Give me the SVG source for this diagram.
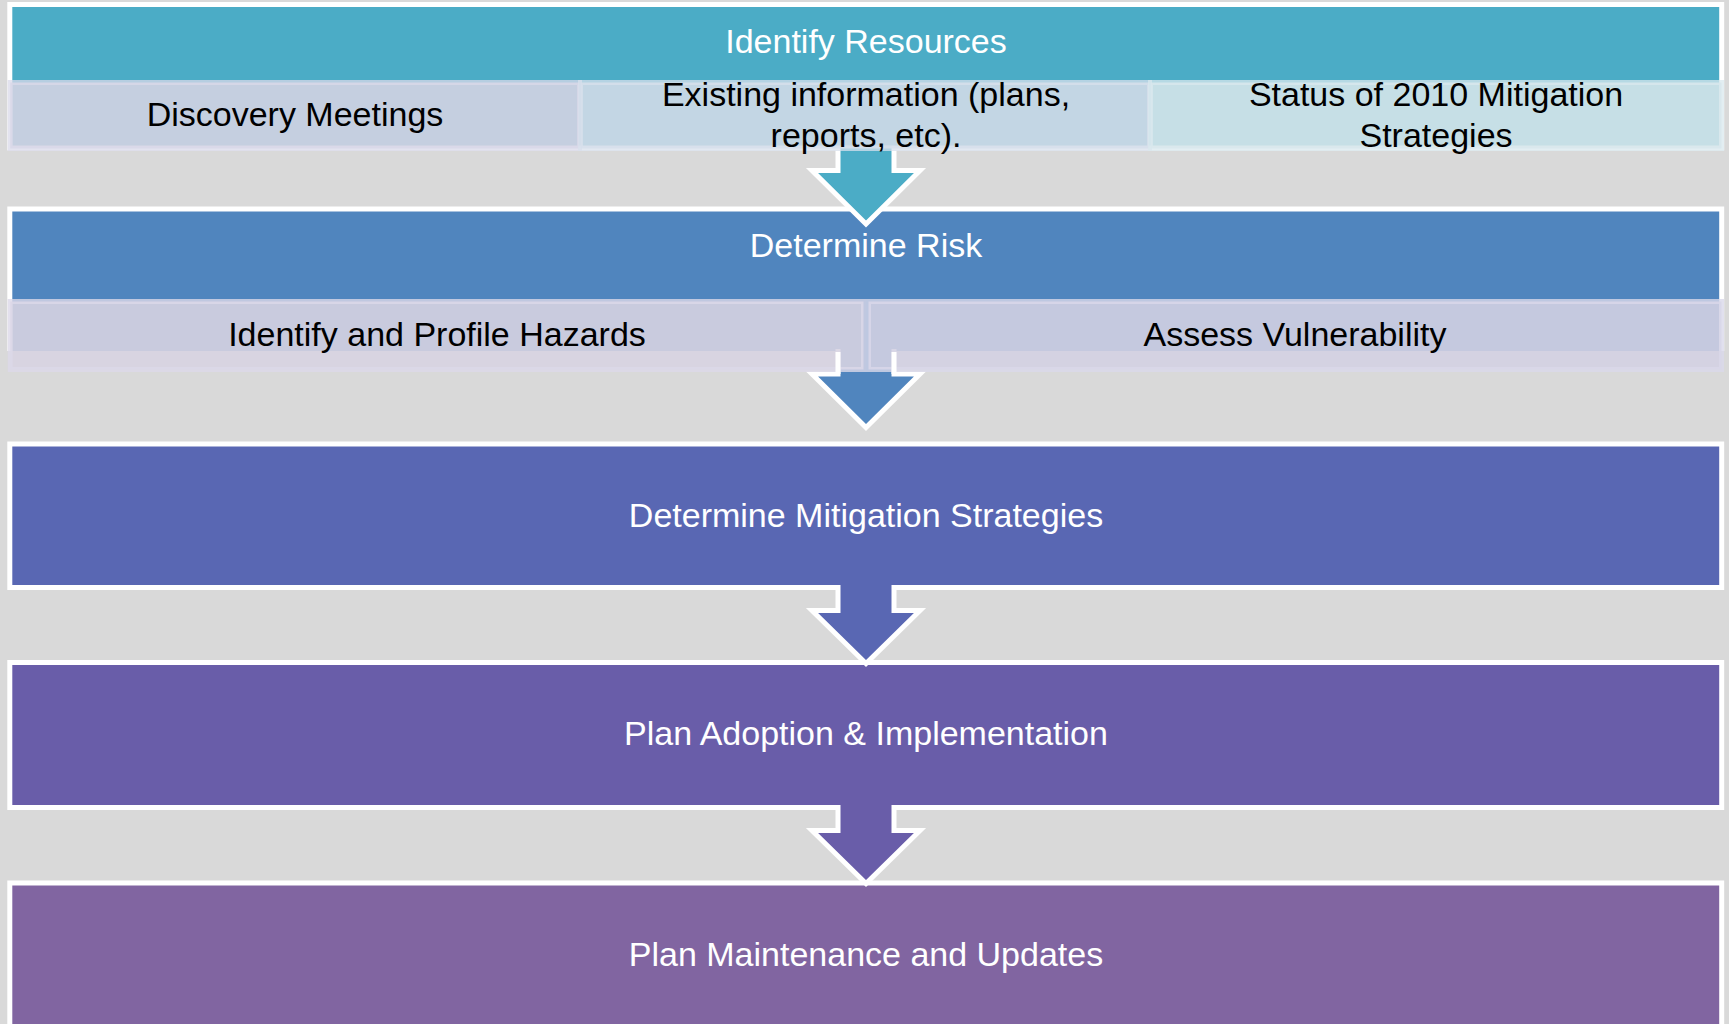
<svg xmlns="http://www.w3.org/2000/svg" width="1729" height="1024" viewBox="0 0 1729 1024">
<style>
.hdr{stroke:#fff;stroke-width:5}
.ol{fill:none;stroke:#fff;stroke-width:5;stroke-linejoin:miter}
.t{font-family:"Liberation Sans",Arial,sans-serif;font-size:34px;text-anchor:middle}
.w{fill:#fff}
.k{fill:#000}
.cell{stroke-width:5}
</style>
<rect width="1729" height="1024" fill="#d9d9d9"/>

<g id="node-identify-resources">
<rect class="hdr" x="9.8" y="4.5" width="1711.9" height="143.5" fill="#4bacc6"/>
<text class="t w" x="866" y="53">Identify Resources</text>
</g>

<g id="node-determine-risk">
<rect x="9.8" y="209" width="1711.9" height="142" fill="#5085be"/>
<path class="ol" d="M9.8,351 V209 H1721.7 V351"/>
<text class="t w" x="866" y="257">Determine Risk</text>
</g>

<g id="connectors-top">
<path id="arrow1" d="M838,146 V170.5 H812 L866,224 L920,170.5 H894 V146 Z" fill="#4bacc6"/>
<path class="ol" d="M838,146 V170.5 H812 L866,224 L920,170.5 H894 V146"/>
</g>

<g id="node-discovery-meetings">
<rect class="cell" x="10.2" y="82.5" width="569.3" height="66" fill="rgba(212,211,227,0.89)" stroke="rgba(218,218,234,0.75)"/>
<text class="t k" x="295" y="126">Discovery Meetings</text>
</g>
<g id="node-existing-information">
<rect class="cell" x="580.5" y="82.5" width="569" height="66" fill="rgba(210,219,231,0.89)" stroke="rgba(216,224,236,0.75)"/>
<text class="t k" x="866" y="106">Existing information (plans,</text>
<text class="t k" x="866" y="147">reports, etc).</text>
</g>
<g id="node-status-2010">
<rect class="cell" x="1150.5" y="82.5" width="571" height="66" fill="rgba(213,229,234,0.89)" stroke="rgba(218,232,238,0.75)"/>
<text class="t k" x="1436" y="106">Status of 2010 Mitigation</text>
<text class="t k" x="1436" y="147">Strategies</text>
</g>

<g id="connectors-mid">
<path id="arrow2" d="M838,349 V374 H812 L866,427.5 L920,374 H894 V349 Z" fill="#5085be"/>
<path class="ol" d="M838,349 V374 H812 L866,427.5 L920,374 H894 V349"/>
</g>

<g id="node-identify-hazards">
<rect class="cell" x="10.2" y="301.5" width="853.3" height="68" fill="rgba(216,211,226,0.89)" stroke="rgba(220,216,232,0.8)"/>
<text class="t k" x="437" y="346">Identify and Profile Hazards</text>
</g>
<g id="node-assess-vulnerability">
<rect class="cell" x="868.5" y="301.5" width="853" height="68" fill="rgba(211,209,227,0.89)" stroke="rgba(218,216,234,0.8)"/>
<text class="t k" x="1295" y="346">Assess Vulnerability</text>
</g>

<g id="connectors-mid-overlay">
<path class="ol" d="M838,352 V374 M894,352 V374"/>
</g>

<g id="node-mitigation-strategies">
<rect class="hdr" x="9.8" y="444" width="1711.9" height="143.5" fill="#5967b3"/>
<text class="t w" x="866" y="527">Determine Mitigation Strategies</text>
</g>
<g id="node-plan-adoption">
<rect class="hdr" x="9.8" y="662.5" width="1711.9" height="145" fill="#695da9"/>
<text class="t w" x="866" y="745">Plan Adoption &amp; Implementation</text>
</g>
<g id="node-plan-maintenance">
<rect class="hdr" x="9.8" y="883" width="1711.9" height="200" fill="#8165a1"/>
<text class="t w" x="866" y="966">Plan Maintenance and Updates</text>
</g>

<g id="connectors-bottom">
<path id="arrow3" d="M838,575 V610.5 H812 L866,663.5 L920,610.5 H894 V575 Z" fill="#5967b3"/>
<path class="ol" d="M838,585 V610.5 H812 L866,663.5 L920,610.5 H894 V585"/>
<path id="arrow4" d="M838,795 V830.5 H812 L866,883.5 L920,830.5 H894 V795 Z" fill="#695da9"/>
<path class="ol" d="M838,805 V830.5 H812 L866,883.5 L920,830.5 H894 V805"/>
</g>
</svg>
